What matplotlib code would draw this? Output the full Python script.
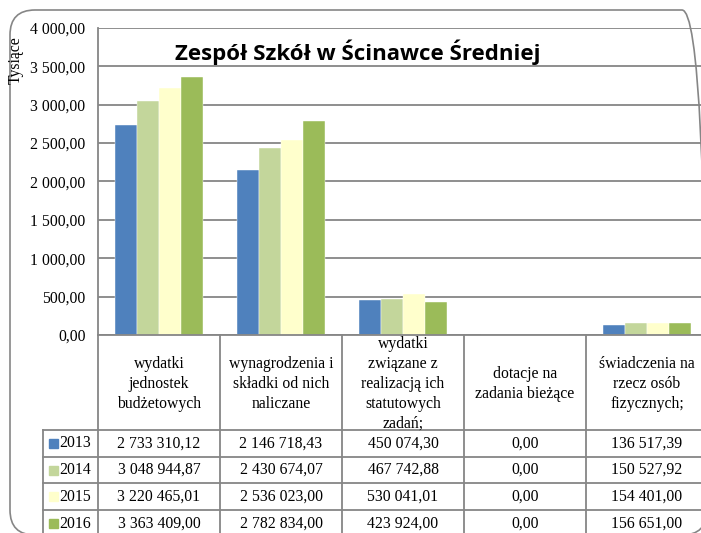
import matplotlib
matplotlib.use("Agg")
import matplotlib.pyplot as plt
from matplotlib.patches import FancyBboxPatch, Rectangle
from matplotlib.ticker import FuncFormatter
from matplotlib.transforms import IdentityTransform

categories = ["wydatki\njednostek\nbudżetowych",
              "wynagrodzenia i\nskładki od nich\nnaliczane",
              "wydatki\nzwiązane z\nrealizacją ich\nstatutowych\nzadań;",
              "dotacje na\nzadania bieżące",
              "świadczenia na\nrzecz osób\nfizycznych;"]
years = ["2013", "2014", "2015", "2016"]
v2013 = [2733310.12, 2146718.43, 450074.30, 0.00, 136517.39]
v2014 = [3048944.87, 2430674.07, 467742.88, 0.00, 150527.92]
v2015 = [3220465.01, 2536023.00, 530041.01, 0.00, 154401.00]
v2016 = [3363409.00, 2782834.00, 423924.00, 0.00, 156651.00]
series = [v2013, v2014, v2015, v2016]
colors = ["#4F81BD", "#C3D69B", "#FFFFCC", "#9BBB59"]
yticks = [0, 500, 1000, 1500, 2000, 2500, 3000, 3500, 4000]

grid_col = "#868686"
serif = "Liberation Serif"
fs = 11.3


def pl(v):
  s = f"{v:,.2f}"
  return s.replace(",", " ").replace(".", ",")


W, H = 701, 533
fig = plt.figure(figsize=(W / 100, H / 100), dpi=100)

# bar area: x 98..708 px, y 28..335 px
ax = fig.add_axes([98 / W, (H - 335) / H, 610 / W, 307 / H])
bw = 0.18
for j, vals in enumerate(series):
  xs = [i + (j - 1.5) * bw for i in range(len(categories))]
  ax.bar(xs, [v / 1000 for v in vals], width=bw, color=colors[j],
         edgecolor="white", linewidth=0.3, zorder=3)
ax.set_xlim(-0.5, len(categories) - 0.5)
ax.set_ylim(0, 4000)
ax.set_yticks(yticks)
ax.yaxis.set_major_formatter(FuncFormatter(lambda v, p: pl(v)))
ax.tick_params(axis="y", length=0, pad=9, labelsize=fs)
ax.set_xticks([])
for lab in ax.get_yticklabels():
  lab.set_fontfamily(serif)
ax.grid(axis="y", color=grid_col, linewidth=1.3, zorder=0)
for s in ["top", "right", "bottom"]:
  ax.spines[s].set_visible(False)
ax.spines["left"].set_color(grid_col)
ax.spines["left"].set_linewidth(1.3)

# data table below the bars
head = 3.55
nrows = len(years)
tab = fig.add_axes([98 / W, (H - 537) / H, 610 / W, 202 / H])
tab.set_xlim(-0.5, len(categories) - 0.5)
tab.set_ylim(head + nrows, 0)
tab.axis("off")
legx = -0.95
kw = dict(color=grid_col, linewidth=1.3, clip_on=False)
tab.plot([-0.5, len(categories) - 0.5], [0, 0], **kw)
for r in range(nrows + 1):
  tab.plot([legx, len(categories) - 0.5], [head + r, head + r], **kw)
for c in range(len(categories) + 1):
  tab.plot([c - 0.5, c - 0.5], [0, head + nrows], **kw)
tab.plot([legx, legx], [head, head + nrows], **kw)

for i, cat in enumerate(categories):
  tab.text(i, head / 2 + 0.05, cat, ha="center", va="center", fontsize=fs,
           family=serif, linespacing=1.33, clip_on=False)
for j, vals in enumerate(series):
  y = head + j + 0.5
  tab.add_patch(Rectangle((-0.9, y - 0.17), 0.074, 0.34, color=colors[j],
                          clip_on=False))
  tab.text(-0.82, y, years[j], ha="left", va="center", fontsize=fs,
           family=serif, clip_on=False)
  for i, v in enumerate(vals):
    tab.text(i, y, pl(v), ha="center", va="center", fontsize=fs,
             family=serif, clip_on=False)

fig.text(358 / W, (H - 52) / H, "Zespół Szkół w Ścinawce Średniej",
         ha="center", va="center", fontsize=16, fontweight="bold",
         family="Open Sans")
fig.text(16 / W, (H - 60) / H, "Tysiące", rotation=90, ha="center",
         va="center", fontsize=fs, family=serif)

frame = FancyBboxPatch((10, -2), 697, 525,
                       boxstyle="round,pad=0,rounding_size=25",
                       transform=IdentityTransform(), fill=False,
                       edgecolor=grid_col, linewidth=1.2)
fig.add_artist(frame)

fig.savefig("out.png", dpi=100)
